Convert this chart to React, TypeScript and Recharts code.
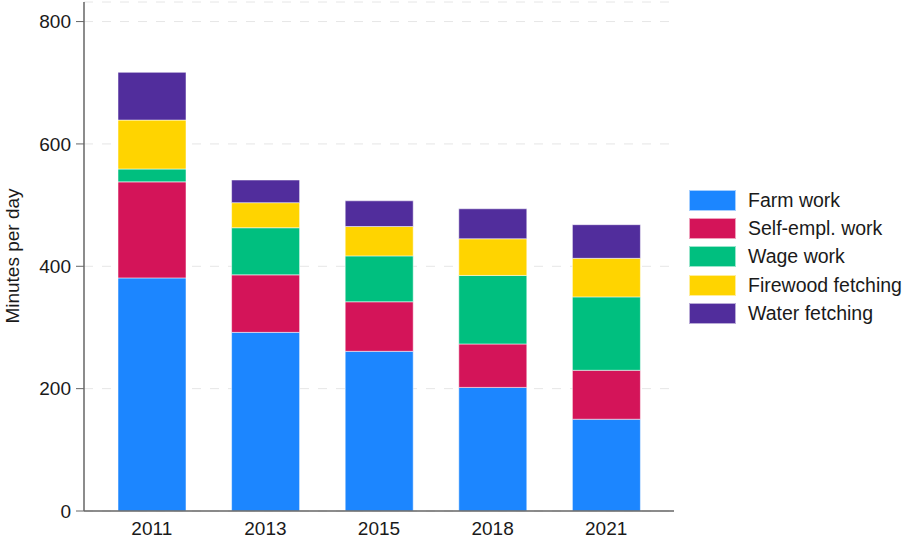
import { BarChart, Bar, XAxis, YAxis, CartesianGrid } from "recharts";

const years = ["2011", "2013", "2015", "2018", "2021"];
const farmWork = [381, 292, 261, 202, 150];
const selfEmplWork = [157, 94, 81, 71, 80];
const wageWork = [21, 77, 75, 112, 120];
const firewoodFetching = [80, 41, 48, 60, 63];
const waterFetching = [78, 37, 42, 49, 55];
const yTicks = [0, 200, 400, 600, 800];

const series = [
  { key: "farm", name: "Farm work", color: "#1c86ff", values: farmWork },
  { key: "self", name: "Self-empl. work", color: "#d41459", values: selfEmplWork },
  { key: "wage", name: "Wage work", color: "#00bf7f", values: wageWork },
  { key: "firewood", name: "Firewood fetching", color: "#ffd400", values: firewoodFetching },
  { key: "water", name: "Water fetching", color: "#512d9c", values: waterFetching },
];

const data = years.map((year, i) => {
  const row: Record<string, string | number> = { year };
  series.forEach((s) => {
    row[s.key] = s.values[i];
  });
  return row;
});

const font = "'Liberation Sans', Arial, sans-serif";

function LegendBox() {
  return (
    <div
      style={{
        position: "absolute",
        left: 689,
        top: 186,
        fontFamily: font,
        fontSize: 19.5,
        color: "#1a1a1a",
        whiteSpace: "nowrap",
      }}
    >
      {series.map((s) => (
        <div
          key={s.key}
          style={{ display: "flex", alignItems: "center", height: 28.3 }}
        >
          <div
            style={{
              width: 45,
              height: 19,
              background: s.color,
              border: "1px solid rgba(255,255,255,0.6)",
              marginRight: 12,
            }}
          />
          <span>{s.name}</span>
        </div>
      ))}
    </div>
  );
}

export default function App() {
  return (
    <div
      style={{
        position: "absolute",
        left: 0,
        top: 0,
        width: 909,
        height: 541,
        background: "#fff",
      }}
    >
      <BarChart
        width={909}
        height={541}
        data={data}
        margin={{ top: 2, right: 235, bottom: 0, left: 0 }}
      >
        <CartesianGrid
          vertical={false}
          stroke="#e6e6e6"
          strokeDasharray="9 9"
        />
        <XAxis
          dataKey="year"
          height={30}
          tickLine={false}
          axisLine={{ stroke: "#666", strokeWidth: 1.5 }}
          padding={{ left: 11, right: 11 }}
          tickMargin={5}
          tick={{ fill: "#1a1a1a", fontSize: 19, fontFamily: font }}
        />
        <YAxis
          width={84}
          domain={[0, 832]}
          ticks={yTicks}
          tickSize={8}
          tickMargin={5}
          axisLine={{ stroke: "#666", strokeWidth: 1.5 }}
          tickLine={{ stroke: "#666" }}
          tick={{ fill: "#1a1a1a", fontSize: 19, fontFamily: font }}
          label={{
            content: () => (
              <text
                x={12}
                y={256}
                transform="rotate(-90 12 256)"
                textAnchor="middle"
                dominantBaseline="central"
                fill="#1a1a1a"
                fontSize={19}
                fontFamily={font}
              >
                Minutes per day
              </text>
            ),
          }}
        />
        {series.map((s) => (
          <Bar
            key={s.key}
            dataKey={s.key}
            name={s.name}
            stackId="a"
            fill={s.color}
            stroke="rgba(255,255,255,0.5)"
            strokeWidth={1}
            barSize={68}
            isAnimationActive={false}
          />
        ))}
      </BarChart>
      <LegendBox />
    </div>
  );
}
